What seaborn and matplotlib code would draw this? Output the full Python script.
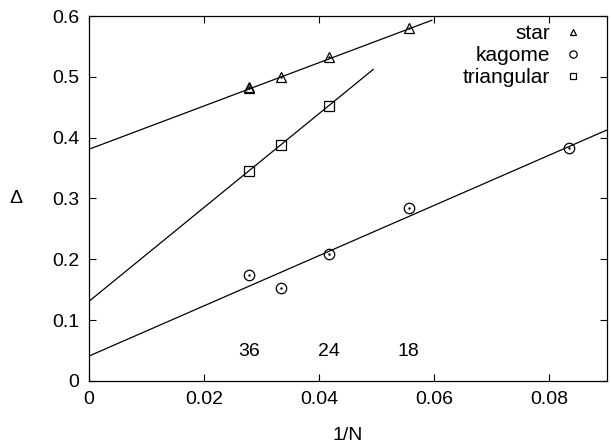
import numpy as np
import pandas as pd
import matplotlib
matplotlib.use("Agg")
import matplotlib.pyplot as plt
import seaborn as sns

# --- data (x = 1/N)
star_x = [1 / 36, 1 / 36, 1 / 30, 1 / 24, 1 / 18]
star_y = [0.484, 0.481, 0.500, 0.533, 0.580]
kagome_x = [1 / 36, 1 / 30, 1 / 24, 1 / 18, 1 / 12]
kagome_y = [0.175, 0.153, 0.208, 0.285, 0.383]
tri_x = [1 / 36, 1 / 30, 1 / 24]
tri_y = [0.345, 0.388, 0.452]

# linear extrapolations: intercept, slope, x end
fit_names = ["star", "kagome", "triangular"]
fit_intercept = [0.381, 0.041, 0.131]
fit_slope = [3.56, 4.13, 7.72]
fit_xend = [0.0596, 0.09, 0.0494]

size_labels = ["36", "24", "18"]
size_x = [1 / 36, 1 / 24, 1 / 18]

sns.set_style("ticks")
plt.rcParams["font.family"] = ["Liberation Sans", "DejaVu Sans"]
plt.rcParams["font.size"] = 14
for k in ["text.color", "axes.labelcolor", "xtick.color", "ytick.color", "axes.edgecolor"]:
    plt.rcParams[k] = "black"

fig = plt.figure(figsize=(6.11, 4.47), dpi=100)
ax = fig.add_axes([0.1457, 0.1477, 0.8478, 0.8165])

# fit lines
for name, b, m, xe in zip(fit_names, fit_intercept, fit_slope, fit_xend):
    xs = np.array([0.0, xe])
    sns.lineplot(x=xs, y=b + m * xs, ax=ax, color="black", lw=0.9, legend=False)

pts = pd.concat([
    pd.DataFrame({"x": star_x, "y": star_y, "lattice": "star"}),
    pd.DataFrame({"x": kagome_x, "y": kagome_y, "lattice": "kagome"}),
    pd.DataFrame({"x": tri_x, "y": tri_y, "lattice": "triangular"}),
])
markers = {"star": "^", "kagome": "o", "triangular": "s"}
sizes = {"star": 6.5, "kagome": 7.5, "triangular": 7}
for lat, grp in pts.groupby("lattice", sort=False):
    ax.plot(grp["x"], grp["y"], ls="none", marker=markers[lat], ms=sizes[lat],
            mfc="none", mec="black", mew=0.9, label=lat)
    if lat != "triangular":
        ax.plot(grp["x"], grp["y"], ls="none", marker=".", ms=1.5, color="black")

for lab, xv in zip(size_labels, size_x):
    ax.text(xv, 0.048, lab, ha="center", va="center", fontsize=14)

ax.set_xlim(0, 0.09)
ax.set_ylim(0, 0.6)
ax.set_xticks([0, 0.02, 0.04, 0.06, 0.08])
ax.set_xticklabels(["0", "0.02", "0.04", "0.06", "0.08"])
ax.set_yticks([0, 0.1, 0.2, 0.3, 0.4, 0.5, 0.6])
ax.set_yticklabels(["0", "0.1", "0.2", "0.3", "0.4", "0.5", "0.6"])
ax.tick_params(direction="in", top=True, right=True, length=5, width=0.8,
               labelsize=14, pad=7)
for sp in ax.spines.values():
    sp.set_linewidth(0.9)

ax.set_xlabel("1/N", fontsize=14, labelpad=14)
ax.set_ylabel("Δ", fontsize=14, rotation=0, labelpad=26, va="center")

handles, labels = ax.get_legend_handles_labels()
ax.legend(handles[:3], labels[:3], loc="upper right", frameon=False,
          markerfirst=False, handlelength=1.0, handletextpad=0.6,
          labelspacing=0.15, borderaxespad=0.0, borderpad=0.5,
          fontsize=15, markerscale=0.7, bbox_to_anchor=(0.975, 1.006))

fig.savefig("out.png", dpi=100)
